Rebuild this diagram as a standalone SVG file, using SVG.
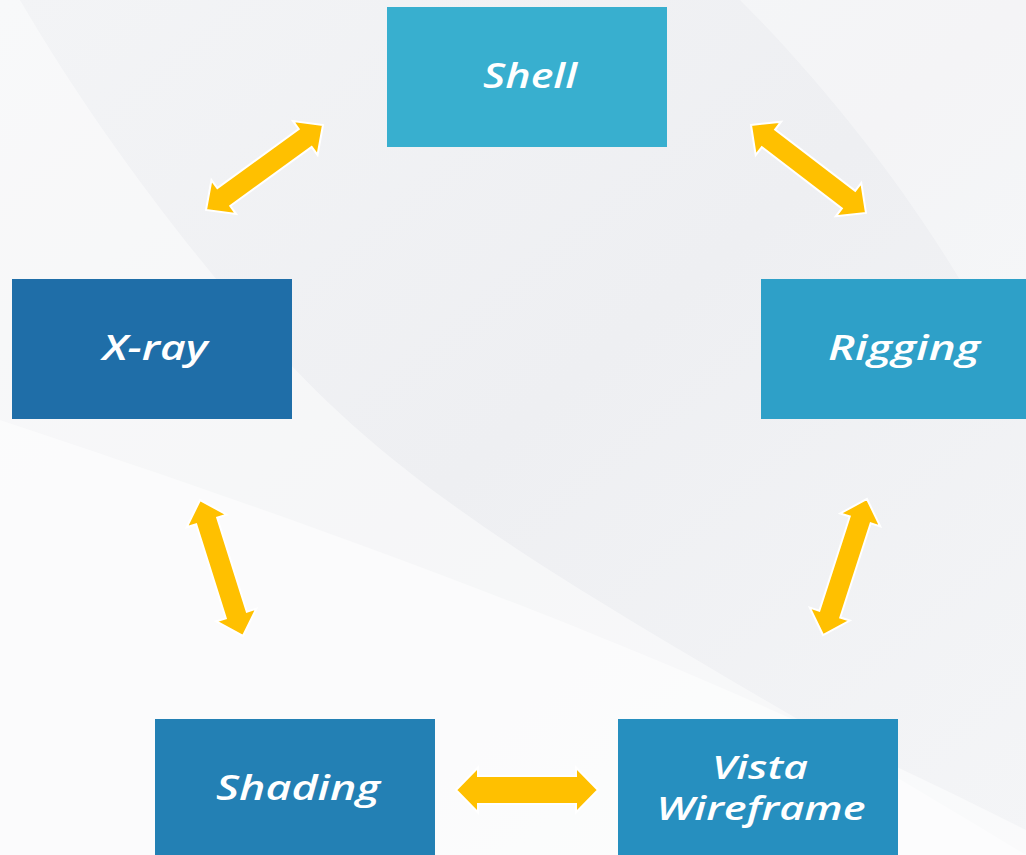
<svg xmlns="http://www.w3.org/2000/svg" width="1026" height="855" viewBox="0 0 1026 855">
<defs>
<linearGradient id="bg" x1="0" y1="0" x2="1" y2="1">
<stop offset="0" stop-color="#F3F4F6"/>
<stop offset="0.5" stop-color="#EEEFF2"/>
<stop offset="1" stop-color="#F4F5F7"/>
</linearGradient>
<style>
.node text{font-family:"Open Sans","DejaVu Sans",sans-serif;font-style:italic;font-weight:600;font-size:34px;fill:#FFFFFF;text-anchor:middle}
.arr{fill:#FFC000;stroke:#FFFFFF;stroke-width:2;stroke-linejoin:miter}
</style>
</defs>
<rect width="1026" height="855" fill="url(#bg)"/>
<path d="M0,0 L20,0 C90,120 180,240 260,330 C420,520 640,620 1026,855 L0,855 Z" fill="#FFFFFF" opacity="0.45"/>
<path d="M0,420 C300,520 650,640 1026,830 L1026,855 L0,855 Z" fill="#FFFFFF" opacity="0.5"/>
<path d="M740,0 C820,80 900,180 960,280 L1026,280 L1026,0 Z" fill="#FFFFFF" opacity="0.35"/>
<g id="connectors">
<path class="arr" transform="translate(264.5,167.5) rotate(-36)" d="M-72.3,0 L-50.3,-21 L-50.3,-11 L50.3,-11 L50.3,-21 L72.3,0 L50.3,21 L50.3,11 L-50.3,11 L-50.3,21 Z"/>
<path class="arr" transform="translate(808.5,169) rotate(37.4)" d="M-72.4,0 L-50.4,-21 L-50.4,-11 L50.4,-11 L50.4,-21 L72.4,0 L50.4,21 L50.4,11 L-50.4,11 L-50.4,21 Z"/>
<path class="arr" transform="translate(845,567) rotate(107.9)" d="M-71.5,0 L-49.5,-21 L-49.5,-11 L49.5,-11 L49.5,-21 L71.5,0 L49.5,21 L49.5,11 L-49.5,11 L-49.5,21 Z"/>
<path class="arr" transform="translate(221.5,568) rotate(72.5)" d="M-71.3,0 L-49.3,-21 L-49.3,-11 L49.3,-11 L49.3,-21 L71.3,0 L49.3,21 L49.3,11 L-49.3,11 L-49.3,21 Z"/>
<path class="arr" transform="translate(527,790)" d="M-71,0 L-49,-22.5 L-49,-14 L49,-14 L49,-22.5 L71,0 L49,22.5 L49,14 L-49,14 L-49,22.5 Z"/>
</g>
<g id="node-shell" class="node">
<rect x="387" y="7" width="280" height="140" fill="#38AFCF"/>
<text x="530" y="88" textLength="94" lengthAdjust="spacingAndGlyphs">Shell</text>
</g>
<g id="node-xray" class="node">
<rect x="12" y="279" width="280" height="140" fill="#1F6EA8"/>
<text x="155" y="360" textLength="105" lengthAdjust="spacingAndGlyphs">X-ray</text>
</g>
<g id="node-rigging" class="node">
<rect x="761" y="279" width="265" height="140" fill="#2EA0C8"/>
<text x="904" y="360" textLength="152" lengthAdjust="spacingAndGlyphs">Rigging</text>
</g>
<g id="node-shading" class="node">
<rect x="155" y="719" width="280" height="136" fill="#2380B4"/>
<text x="298" y="800" textLength="164" lengthAdjust="spacingAndGlyphs">Shading</text>
</g>
<g id="node-vista" class="node">
<rect x="618" y="719" width="280" height="136" fill="#268FBF"/>
<text x="760" y="779" style="font-size:32px" textLength="96" lengthAdjust="spacingAndGlyphs">Vista</text>
<text x="761" y="820" style="font-size:32px" textLength="209" lengthAdjust="spacingAndGlyphs">Wireframe</text>
</g>
</svg>
